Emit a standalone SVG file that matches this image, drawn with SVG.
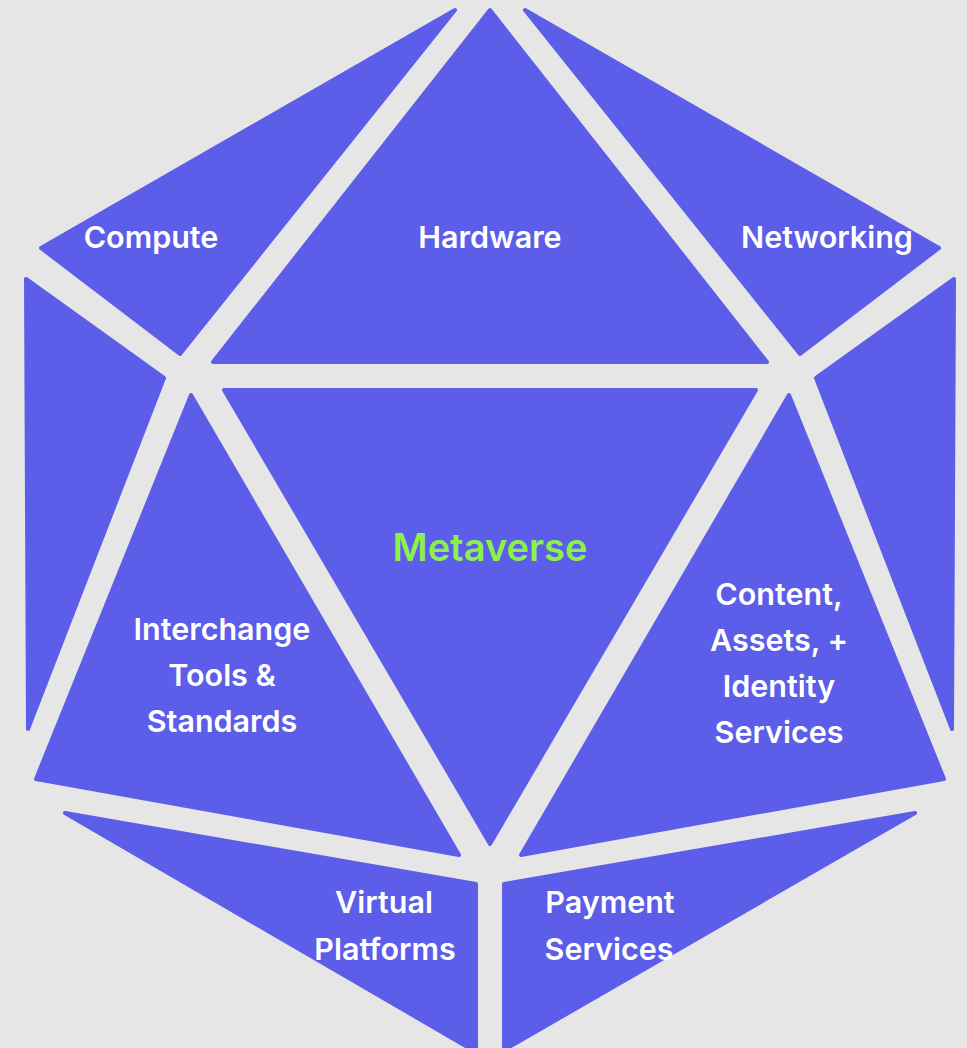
<svg xmlns="http://www.w3.org/2000/svg" width="967" height="1048" viewBox="0 0 967 1048">
<style>
.p{fill:#5C5DE8;stroke:#5C5DE8;stroke-width:4;stroke-linejoin:round}
.t{font-family:Inter,"Liberation Sans",sans-serif;font-weight:600;font-size:30.5px;fill:#ffffff;text-anchor:middle}
.m{font-family:Inter,"Liberation Sans",sans-serif;font-weight:600;font-size:38px;fill:#8CF04A;text-anchor:middle}
</style>
<rect width="967" height="1048" fill="#E6E6E6"/>
<g id="compute"><polygon class="p" points="455,10 41,248 180,354"/><text class="t" x="151" y="248">Compute</text></g>
<g id="hardware"><polygon class="p" points="490,10 213,362 767,362"/><text class="t" x="490" y="248">Hardware</text></g>
<g id="networking"><polygon class="p" points="525,10 939,248 800,354"/><text class="t" x="827" y="248">Networking</text></g>
<g id="left-side"><polygon class="p" points="26,279 164,378 28,729"/></g>
<g id="right-side"><polygon class="p" points="954,279 816,378 952,729"/></g>
<g id="metaverse"><polygon class="p" points="224,390 756,390 490,844"/><text class="m" x="490" y="561">Metaverse</text></g>
<g id="interchange"><polygon class="p" points="191,395 459,855 36,779"/><text class="t" x="222" y="640">Interchange</text><text class="t" x="222" y="686">Tools &amp;</text><text class="t" x="222" y="732">Standards</text></g>
<g id="content"><polygon class="p" points="789,395 944,779 521,855"/><text class="t" x="779" y="605">Content,</text><text class="t" x="779" y="651">Assets, +</text><text class="t" x="779" y="697">Identity</text><text class="t" x="779" y="743">Services</text></g>
<g id="virtual"><polygon class="p" points="65,813 476,884 476,1052"/><text class="t" x="384" y="913">Virtual</text><text class="t" x="385" y="960">Platforms</text></g>
<g id="payment"><polygon class="p" points="915,813 504,884 504,1050"/><text class="t" x="610" y="913">Payment</text><text class="t" x="609" y="960">Services</text></g>
<g id="connectors"></g>
</svg>
